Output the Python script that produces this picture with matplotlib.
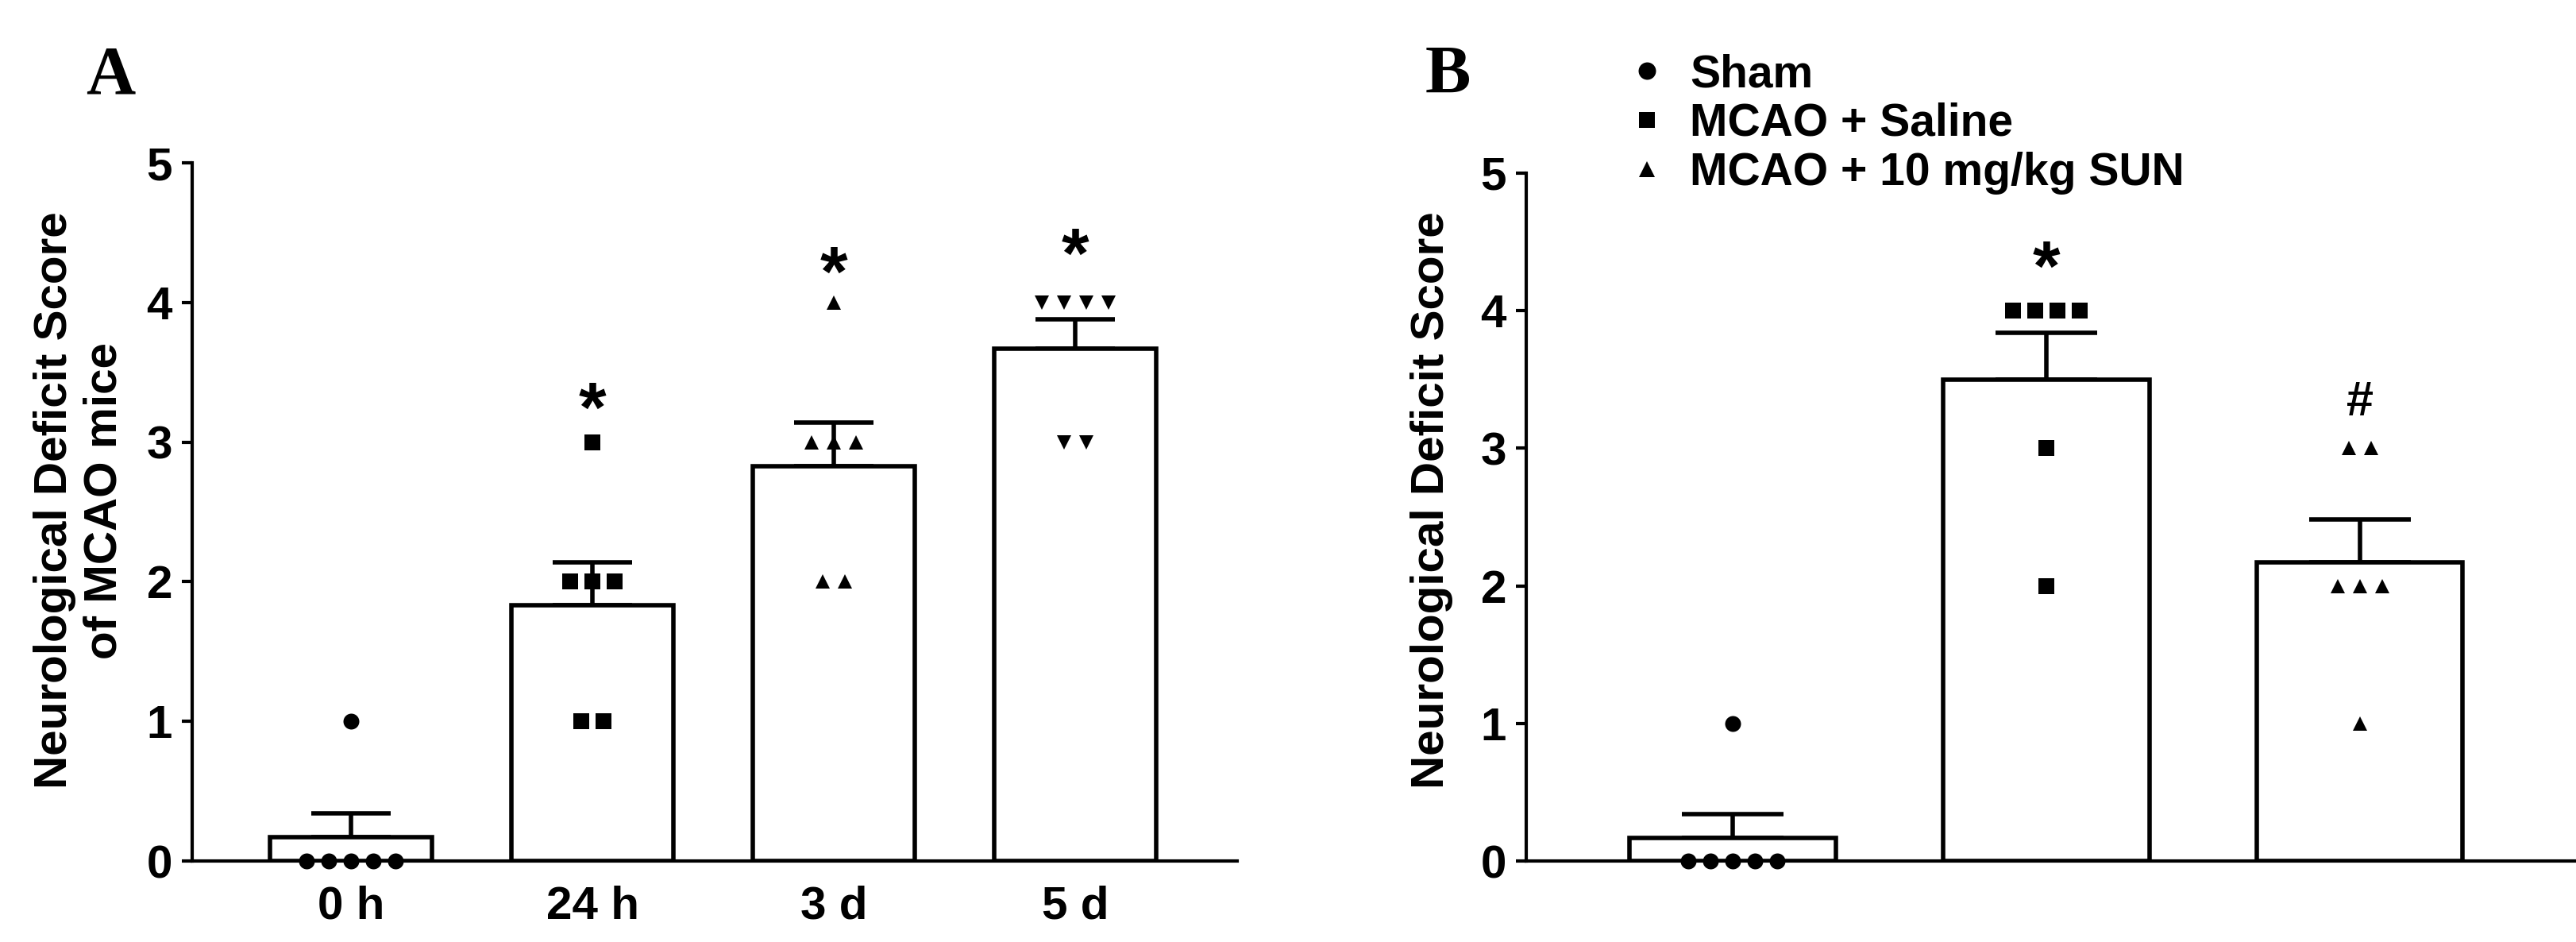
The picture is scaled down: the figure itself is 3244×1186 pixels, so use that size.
import matplotlib
matplotlib.use('Agg')
import matplotlib.pyplot as plt
from matplotlib.lines import Line2D
import numpy as np

plt.rcParams['font.family'] = 'Liberation Sans'
plt.rcParams['font.weight'] = 'bold'

# 1) Datos panel A (tiempos despues de MCAO)
tiempos = ['0 h', '24 h', '3 d', '5 d']
media_a = [0.17, 1.83, 2.83, 3.67]
sem_a = [0.17, 0.31, 0.31, 0.21]
puntos_a = [[0, 0, 0, 0, 0, 1],
            [1, 1, 2, 2, 2, 3],
            [2, 2, 3, 3, 3, 4],
            [3, 3, 4, 4, 4, 4]]
marcas_a = ['o', 's', '^', 'v']
sig_a = ['', '*', '*', '*']
sig_a_y = [0, 3.08, 4.05, 4.18]

# 2) Datos panel B (tratamientos)
grupos = ['Sham', 'MCAO + Saline', 'MCAO + 10 mg/kg SUN']
media_b = [0.17, 3.5, 2.17]
sem_b = [0.17, 0.34, 0.31]
puntos_b = [[0, 0, 0, 0, 0, 1],
            [2, 3, 4, 4, 4, 4],
            [1, 2, 2, 2, 3, 3]]
marcas_b = ['o', 's', '^']
sig_b = ['', '*', '#']
sig_b_y = [0, 4.15, 3.24]

tam_marca = {'o': 14.4, 's': 15, '^': 13.5, 'v': 13.5}


def dibujar_puntos(ax, x, valores, marca, paso):
    vals = np.array(valores)
    for v in np.unique(vals):
        n = int(np.sum(vals == v))
        offs = (np.arange(n) - (n - 1) / 2) * paso
        ax.plot(x + offs, [v] * n, ls='none', marker=marca, color='black',
                ms=tam_marca[marca], mew=0, zorder=4, clip_on=False)


def panel(ax, medias, sems, puntos, marcas, sig, sig_y, ancho, cap, paso, xlim):
    x = np.arange(len(medias))
    ax.errorbar(x, medias, yerr=[np.zeros(len(sems)), sems], fmt='none',
                ecolor='black', elinewidth=4, capsize=cap, capthick=4, zorder=1)
    ax.bar(x, medias, ancho, color='white', edgecolor='black', linewidth=4, zorder=2)
    for i in range(len(medias)):
        dibujar_puntos(ax, x[i], puntos[i], marcas[i], paso)
        if sig[i]:
            fs = 64 if sig[i] == '*' else 44
            ax.text(x[i], sig_y[i], sig[i], ha='center', va='baseline', fontsize=fs)
    ax.set_xlim(*xlim)
    ax.set_ylim(0, 5)
    ax.set_yticks(range(6))
    for s in ['top', 'right']:
        ax.spines[s].set_visible(False)
    for s in ['left', 'bottom']:
        ax.spines[s].set_linewidth(3)
    ax.tick_params(axis='y', length=9.4, width=3, pad=8.6, labelsize=42)
    ax.tick_params(axis='x', length=0, pad=22, labelsize=42)


fig = plt.figure(figsize=(32.44, 11.86), dpi=100)
ax_a = fig.add_axes([0.0746, 0.0860, 0.4057, 0.7411])
ax_b = fig.add_axes([0.5925, 0.0860, 0.4075, 0.7302])

panel(ax_a, media_a, sem_a, puntos_a, marcas_a, sig_a, sig_a_y,
      0.67, 36, 0.092, (-0.658, 3.671))
ax_a.set_xticks(range(len(tiempos)))
ax_a.set_xticklabels(tiempos)

panel(ax_b, media_b, sem_b, puntos_b, marcas_b, sig_b, sig_b_y,
      0.658, 46, 0.071, (-0.658, 2.69))
ax_b.set_xticks([])

# 3) Etiquetas de ejes y letras de panel
fig.text(100 / 3244, 1 - 630 / 1186, 'Neurological Deficit Score\nof MCAO mice',
         rotation=90, ha='center', va='center', fontsize=42, linespacing=1.2)
fig.text(1803 / 3244, 1 - 630 / 1186, 'Neurological Deficit Score',
         rotation=90, ha='center', va='center', fontsize=42)
fig.text(108 / 3244, 1 - 117 / 1186, 'A', family='Liberation Serif',
         weight='bold', fontsize=62, va='baseline', ha='left')
fig.text(1795 / 3244, 1 - 117 / 1186, 'B', family='Liberation Serif',
         weight='bold', fontsize=62, va='baseline', ha='left')

# 4) Leyenda
manijas = [Line2D([], [], ls='none', marker='o', color='black', ms=15.8, mew=0),
           Line2D([], [], ls='none', marker='s', color='black', ms=14.4, mew=0),
           Line2D([], [], ls='none', marker='^', color='black', ms=14, mew=0)]
ax_b.legend(manijas, grupos, frameon=False, loc='upper left',
            bbox_to_anchor=(2046 / 3244, 1 - 67 / 1186), bbox_transform=fig.transFigure,
            fontsize=41, handlelength=1.0, handletextpad=0.44, labelspacing=0.14,
            borderpad=0, borderaxespad=0, numpoints=1)

fig.savefig('out.png', dpi=100)
